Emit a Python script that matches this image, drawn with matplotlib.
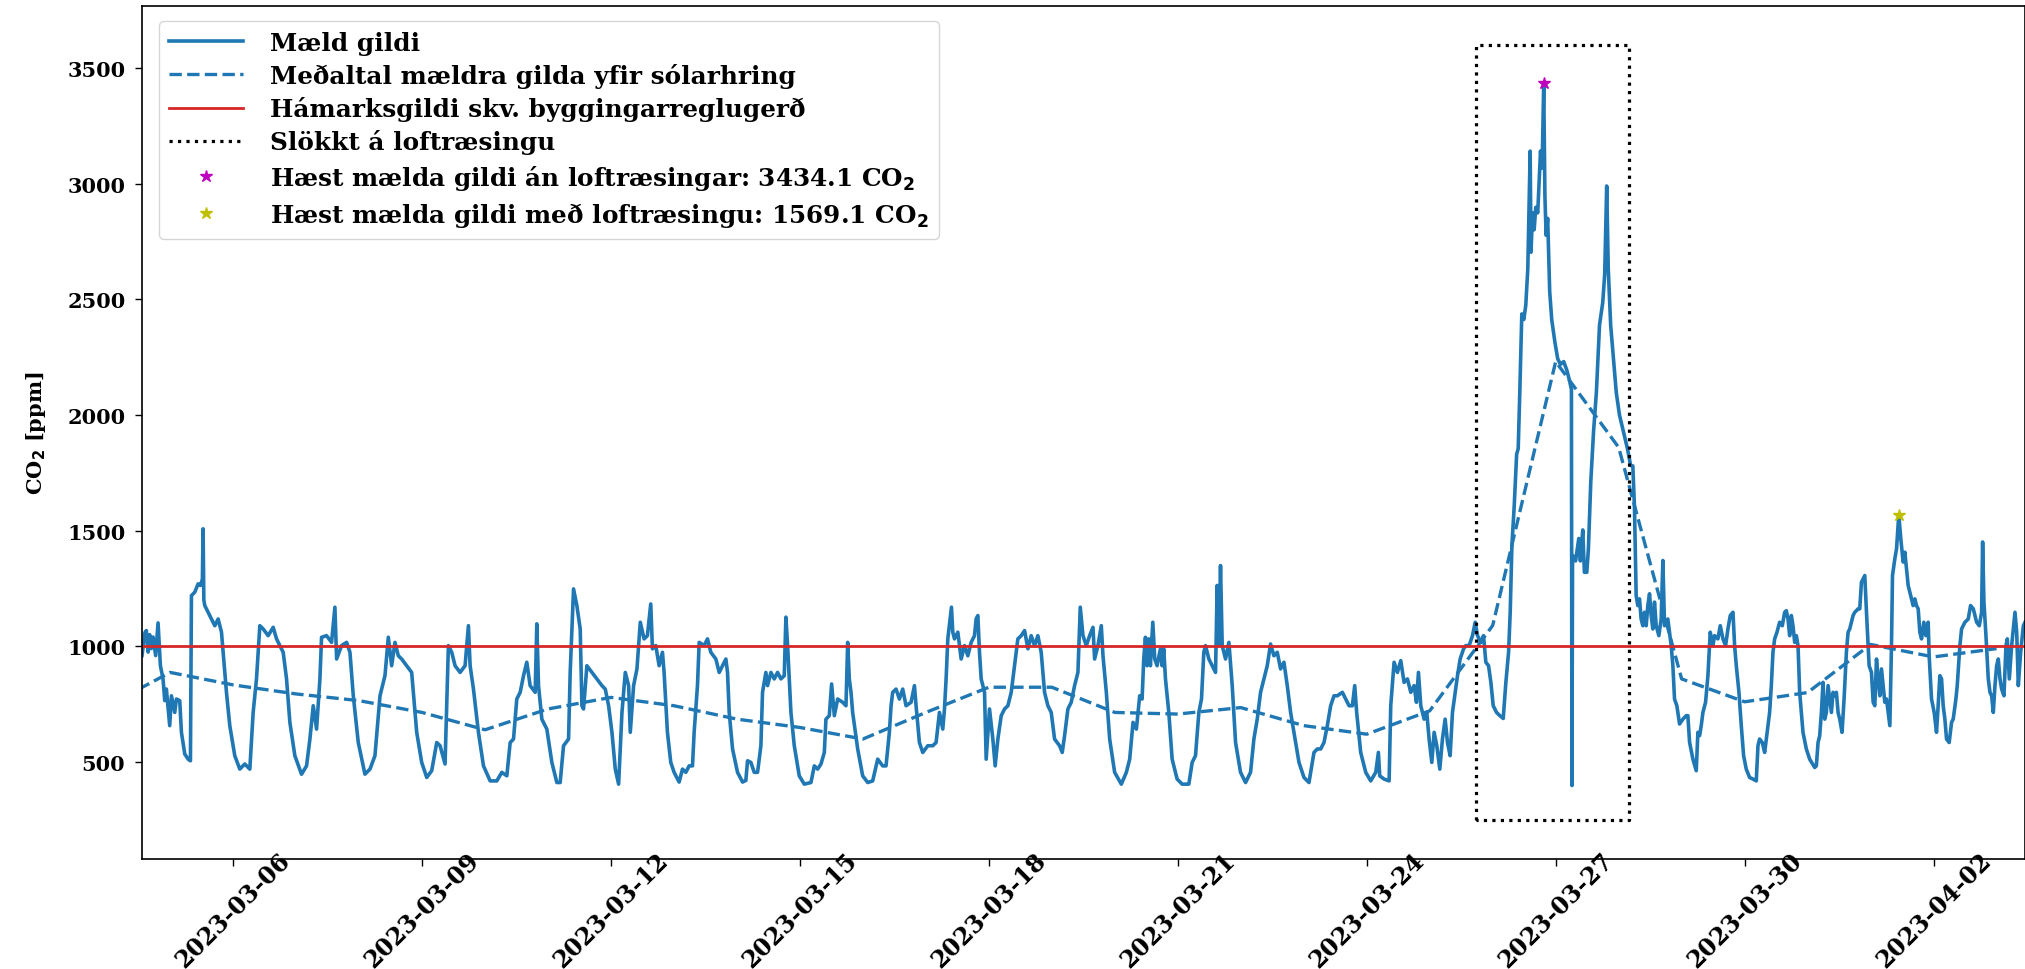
import pandas as pd
import matplotlib
matplotlib.use('Agg')
import matplotlib.pyplot as plt
import matplotlib.dates as mdates

# dagar eru talin frá 2023-03-06 00:00
upphaf = pd.Timestamp('2023-03-06')

maeld_dagar = [
    -1.447, -1.40, -1.378, -1.35, -1.325, -1.30, -1.272, -1.23, -1.192, -1.155,
    -1.113, -1.086, -1.060, -1.007, -0.980, -0.927, -0.901, -0.848, -0.821, -0.768,
    -0.715, -0.678, -0.662, -0.609, -0.556, -0.519, -0.488, -0.477, -0.465, -0.450,
    -0.397, -0.344, -0.291, -0.238, -0.185, -0.159, -0.106, -0.053, 0.026, 0.106,
    0.185, 0.265, 0.318, 0.371, 0.424, 0.477, 0.556, 0.636, 0.689, 0.742,
    0.795, 0.848, 0.901, 0.980, 1.086, 1.166, 1.219, 1.272, 1.325, 1.378,
    1.404, 1.484, 1.563, 1.616, 1.643, 1.722, 1.802, 1.855, 1.908, 1.987,
    2.093, 2.173, 2.252, 2.332, 2.411, 2.464, 2.517, 2.570, 2.623, 2.676,
    2.756, 2.835, 2.862, 2.915, 2.994, 3.074, 3.153, 3.233, 3.286, 3.365,
    3.418, 3.471, 3.524, 3.604, 3.683, 3.736, 3.763, 3.816, 3.895, 3.975,
    4.081, 4.187, 4.266, 4.346, 4.399, 4.452, 4.504, 4.558, 4.611, 4.663,
    4.716, 4.796, 4.822, 4.849, 4.902, 4.981, 5.061, 5.140, 5.193, 5.246,
    5.326, 5.352, 5.405, 5.458, 5.511, 5.538, 5.564, 5.617, 5.697, 5.776,
    5.856, 5.909, 5.962, 6.015, 6.068, 6.121, 6.174, 6.227, 6.280, 6.306,
    6.359, 6.412, 6.465, 6.525, 6.578, 6.631, 6.658, 6.711, 6.764, 6.817,
    6.843, 6.896, 6.949, 7.002, 7.082, 7.135, 7.188, 7.241, 7.294, 7.320,
    7.373, 7.400, 7.479, 7.532, 7.585, 7.665, 7.718, 7.771, 7.824, 7.850,
    7.877, 7.930, 8.009, 8.089, 8.141, 8.168, 8.221, 8.274, 8.327, 8.380,
    8.406, 8.459, 8.486, 8.539, 8.592, 8.645, 8.698, 8.751, 8.777, 8.804,
    8.857, 8.910, 8.989, 9.069, 9.175, 9.228, 9.281, 9.334, 9.387, 9.413,
    9.466, 9.503, 9.546, 9.599, 9.678, 9.731, 9.758, 9.784, 9.811, 9.837,
    9.917, 9.996, 10.076, 10.155, 10.235, 10.314, 10.367, 10.420, 10.447, 10.473,
    10.526, 10.579, 10.632, 10.685, 10.765, 10.818, 10.844, 10.897, 10.950, 11.030,
    11.109, 11.162, 11.215, 11.268, 11.295, 11.321, 11.348, 11.385, 11.406, 11.427,
    11.454, 11.507, 11.560, 11.613, 11.666, 11.719, 11.772, 11.798, 11.825, 11.851,
    11.878, 11.931, 11.957, 12.010, 12.063, 12.100, 12.143, 12.196, 12.249, 12.302,
    12.355, 12.408, 12.460, 12.514, 12.567, 12.620, 12.672, 12.725, 12.778, 12.831,
    12.884, 12.937, 12.990, 13.043, 13.123, 13.165, 13.202, 13.255, 13.308, 13.361,
    13.414, 13.451, 13.494, 13.547, 13.600, 13.653, 13.679, 13.732, 13.785, 13.812,
    13.865, 13.918, 13.997, 14.103, 14.183, 14.236, 14.289, 14.342, 14.395, 14.433,
    14.459, 14.486, 14.512, 14.539, 14.565, 14.603, 14.634, 14.671, 14.724, 14.751,
    14.777, 14.804, 14.857, 14.910, 14.989, 15.069, 15.175, 15.228, 15.281, 15.334,
    15.376, 15.413, 15.440, 15.493, 15.546, 15.599, 15.625, 15.652, 15.678, 15.705,
    15.758, 15.811, 15.864, 15.917, 15.996, 16.076, 16.155, 16.208, 16.261, 16.314,
    16.367, 16.420, 16.473, 16.526, 16.579, 16.632, 16.685, 16.738, 16.791, 16.844,
    16.924, 17.003, 17.083, 17.162, 17.215, 17.268, 17.321, 17.374, 17.427, 17.480,
    17.533, 17.613, 17.666, 17.719, 17.772, 17.809, 17.840, 17.904, 17.984, 18.063,
    18.143, 18.185, 18.206, 18.275, 18.355, 18.381, 18.434, 18.487, 18.540, 18.593,
    18.646, 18.699, 18.752, 18.789, 18.821, 18.858, 18.911, 18.953, 18.990, 19.033,
    19.070, 19.112, 19.160, 19.202, 19.245, 19.282, 19.324, 19.361, 19.404, 19.441,
    19.483, 19.536, 19.573, 19.626, 19.679, 19.722, 19.759, 19.812, 19.854, 19.891,
    19.934, 19.971, 20.008, 20.061, 20.114, 20.167, 20.209, 20.252, 20.278, 20.305,
    20.342, 20.380, 20.405, 20.430, 20.462, 20.494, 20.525, 20.557, 20.576, 20.595,
    20.608, 20.633, 20.658, 20.684, 20.715, 20.759, 20.785, 20.810, 20.829, 20.848,
    20.873, 20.905, 20.937, 20.987, 21.032, 21.076, 21.127, 21.177, 21.222, 21.250,
    21.258, 21.268, 21.316, 21.367, 21.392, 21.430, 21.456, 21.494, 21.519, 21.557,
    21.601, 21.646, 21.696, 21.747, 21.778, 21.810, 21.835, 21.873, 21.918, 21.962,
    22.013, 22.076, 22.139, 22.190, 22.225, 22.251, 22.278, 22.304, 22.331, 22.357,
    22.384, 22.410, 22.437, 22.463, 22.490, 22.516, 22.543, 22.569, 22.596, 22.638,
    22.675, 22.702, 22.728, 22.755, 22.781, 22.808, 22.834, 22.861, 22.887, 22.924,
    22.967, 23.020, 23.073, 23.099, 23.126, 23.179, 23.232, 23.258, 23.285, 23.311,
    23.338, 23.380, 23.417, 23.454, 23.497, 23.523, 23.576, 23.613, 23.656, 23.698,
    23.735, 23.772, 23.815, 23.841, 23.868, 23.910, 23.947, 23.984, 24.026, 24.079,
    24.132, 24.185, 24.212, 24.238, 24.281, 24.318, 24.344, 24.397, 24.424, 24.450,
    24.477, 24.514, 24.556, 24.598, 24.636, 24.662, 24.689, 24.715, 24.742, 24.768,
    24.795, 24.821, 24.848, 24.874, 24.927, 24.980, 25.033, 25.113, 25.139, 25.166,
    25.192, 25.219, 25.245, 25.272, 25.298, 25.325, 25.351, 25.378, 25.404, 25.431,
    25.457, 25.484, 25.510, 25.547, 25.579, 25.616, 25.643, 25.669, 25.696, 25.722,
    25.749, 25.775, 25.802, 25.828, 25.855, 25.881, 25.908, 25.935, 25.977, 26.014,
    26.041, 26.067, 26.094, 26.120, 26.147, 26.173, 26.200, 26.226, 26.253, 26.279,
    26.306, 26.332, 26.348, 26.385, 26.412, 26.448, 26.480, 26.517, 26.544, 26.570,
    26.597, 26.623, 26.650, 26.676, 26.703, 26.729, 26.756, 26.782, 26.809, 26.846,
    26.878, 26.915, 26.930, 26.968, 27.010, 27.047, 27.073, 27.100, 27.127, 27.153,
    27.180, 27.206, 27.248, 27.286, 27.312, 27.355, 27.376, 27.418, 27.445, 27.498,
    27.551, 27.588, 27.631, 27.684, 27.726, 27.763, 27.779, 27.800, 27.832, 27.869,
    27.896, 27.922, 27.949, 27.975, 28.002, 28.028, 28.055, 28.081, 28.118, 28.150,
    28.171, 28.203, 28.240, 28.267, 28.293, 28.320, 28.346, 28.383, 28.426, 28.452,
]

maeld_co2 = [
    960, 1060, 1068, 975, 1050, 990, 1040, 960, 1101, 916,
    859, 765, 815, 657, 786, 714, 772, 765, 628, 534,
    512, 505, 1219, 1234, 1270, 1263, 1290, 1508, 1200, 1176,
    1147, 1118, 1089, 1118, 1061, 974, 801, 657, 527, 469,
    491, 469, 714, 859, 1089, 1075, 1046, 1082, 1032, 1003,
    974, 859, 671, 527, 447, 483, 599, 743, 642, 859,
    1039, 1046, 1017, 1169, 945, 1003, 1017, 974, 786, 584,
    447, 469, 527, 786, 873, 1039, 916, 1017, 959, 945,
    916, 887, 801, 628, 498, 433, 462, 584, 570, 491,
    1003, 974, 916, 887, 916, 1089, 916, 815, 628, 483,
    418, 418, 455, 440, 584, 599, 772, 801, 873, 931,
    830, 801, 1097, 830, 685, 642, 498, 411, 411, 570,
    599, 887, 1248, 1176, 1075, 743, 729, 916, 887, 859,
    830, 815, 743, 628, 469, 404, 714, 887, 830, 628,
    830, 902, 1104, 1032, 1046, 1183, 989, 1003, 916, 974,
    887, 628, 498, 455, 413, 469, 455, 483, 483, 628,
    830, 1017, 1003, 1032, 974, 945, 887, 916, 945, 887,
    714, 556, 455, 413, 420, 505, 498, 455, 455, 570,
    801, 887, 830, 887, 859, 887, 859, 873, 1126, 1003,
    714, 570, 440, 404, 411, 483, 469, 491, 541, 685,
    700, 837, 700, 772, 758, 743, 1017, 859, 801, 714,
    556, 440, 411, 418, 512, 483, 483, 628, 743, 801,
    815, 772, 815, 743, 758, 830, 743, 584, 541, 570,
    570, 584, 714, 642, 729, 859, 1032, 1119, 1169, 1061,
    1032, 1061, 945, 1003, 959, 1017, 1046, 1119, 1133, 974,
    859, 801, 512, 729, 599, 483, 599, 700, 729, 743,
    801, 916, 1032, 1046, 1068, 989, 1046, 1003, 1046, 974,
    801, 743, 714, 599, 570, 541, 613, 729, 758, 830,
    887, 1169, 1046, 1003, 1046, 1082, 945, 1003, 1089, 959,
    801, 599, 455, 404, 455, 512, 671, 642, 786, 772,
    945, 1039, 916, 1032, 916, 1104, 945, 916, 989, 916,
    989, 859, 714, 512, 426, 404, 404, 498, 527, 714,
    772, 974, 1003, 945, 916, 887, 1263, 1003, 1349, 1003,
    945, 1017, 830, 584, 455, 411, 455, 599, 685, 801,
    859, 916, 1010, 959, 974, 902, 931, 830, 714, 628,
    498, 433, 411, 541, 556, 556, 584, 657, 743, 786,
    786, 801, 772, 743, 743, 830, 714, 541, 455, 418,
    455, 541, 440, 426, 418, 743, 931, 887, 938, 844,
    859, 801, 830, 758, 887, 743, 685, 714, 599, 498,
    628, 570, 469, 599, 685, 584, 527, 714, 801, 873,
    945, 988, 1003, 1003, 1046, 1104, 1046, 1017, 1046, 931,
    916, 844, 743, 714, 700, 688, 844, 974, 1147, 1436,
    1609, 1830, 1855, 2097, 2437, 2413, 2474, 2631, 2898, 3141,
    2704, 2874, 2801, 2898, 2874, 3141, 3068, 3434.1, 2947, 2777,
    2850, 2534, 2413, 2316, 2243, 2219, 2231, 2194, 2146, 2110,
    398, 1393, 1369, 1466, 1369, 1503, 1320, 1320, 1418, 1709,
    1927, 2097, 2389, 2486, 2607, 2990, 2631, 2389, 2243, 2097,
    2000, 1927, 1855, 1782, 1780, 1600, 1219, 1176, 1205, 1118,
    1089, 1147, 1089, 1176, 1227, 1133, 1075, 1191, 1089, 1046,
    1118, 1371, 1089, 1104, 1118, 1061, 1003, 916, 772, 743,
    664, 685, 700, 700, 585, 512, 462, 628, 614, 657,
    714, 758, 873, 1061, 1003, 1046, 1032, 1089, 1032, 1003,
    1075, 1133, 1147, 1003, 916, 801, 657, 527, 469, 433,
    426, 418, 570, 599, 584, 541, 599, 714, 830, 974,
    1032, 1061, 1104, 1089, 1147, 1154, 1118, 1046, 1133, 1089,
    1017, 1046, 1003, 801, 628, 556, 512, 476, 483, 584,
    613, 714, 844, 685, 714, 830, 772, 714, 801, 786,
    801, 714, 685, 628, 772, 974, 1061, 1075, 1104, 1133,
    1147, 1154, 1162, 1162, 1277, 1291, 1306, 1147, 916, 887,
    758, 743, 945, 859, 786, 902, 830, 758, 772, 714,
    657, 1003, 1306, 1378, 1421, 1569.1, 1464, 1364, 1407, 1335,
    1263, 1234, 1205, 1176, 1205, 1176, 1162, 1061, 1032, 1104,
    1046, 1104, 959, 772, 714, 628, 743, 873, 859, 743,
    685, 599, 584, 671, 685, 772, 830, 1003, 1075, 1104,
    1118, 1176, 1162, 1104, 1089, 1147, 1451, 1191, 1046, 859,
    801, 786, 714, 830, 916, 945, 859, 815, 786, 1003,
    1032, 859, 1003, 1075, 1147, 1061, 830, 974, 1089, 1104,
]

# meðaltal hvers sólarhrings, merkt á miðnætti
medaltal_dagar = list(range(-2, 29))
medaltal_co2 = [742, 887, 833, 794, 765, 714, 639, 729, 779, 743,
                685, 649, 599, 714, 823, 823, 714, 707, 735, 657,
                620, 721, 1090, 2231, 1860, 859, 760, 800, 1008, 954, 990]

haamarksgildi = 1000

# tímabil þar sem slökkt var á loftræsingu
slokkt_dagar = [19.73, 22.17]
slokkt_co2 = [250, 3600]

hæst_an_dagur, hæst_an = 20.810, 3434.1
hæst_med_dagur, hæst_med = 26.448, 1569.1

assert len(maeld_dagar) == len(maeld_co2)


def dags(dagar):
    return upphaf + pd.to_timedelta(pd.Series(dagar, dtype=float), unit='D')


plt.rcParams['font.family'] = ['DejaVu Serif']
plt.rcParams['font.weight'] = 'bold'

fig = plt.figure(figsize=(20.25, 9.7), dpi=100)
ax = fig.add_axes([142 / 2025, 110.5 / 970, 1883 / 2025, 852.3 / 970])

t_maeld = dags(maeld_dagar)
ax.plot(t_maeld, maeld_co2, color='tab:blue', lw=2.6, label='Mæld gildi')
ax.plot(dags(medaltal_dagar), medaltal_co2, '--', color='tab:blue', lw=2.4,
        label='Meðaltal mældra gilda yfir sólarhring')
ax.axhline(haamarksgildi, color='tab:red', lw=2.0,
           label='Hámarksgildi skv. byggingarreglugerð')

a, b = dags(slokkt_dagar)
lo, hi = slokkt_co2
ax.plot([a, a, b, b, a], [lo, hi, hi, lo, lo], 'k:', lw=2.3,
        label='Slökkt á loftræsingu')

ax.plot(dags([hæst_an_dagur]), [hæst_an], 'm*', ms=9,
        label=f'Hæst mælda gildi án loftræsingar: {hæst_an} CO$_2$')
ax.plot(dags([hæst_med_dagur]), [hæst_med], 'y*', ms=9,
        label=f'Hæst mælda gildi með loftræsingu: {hæst_med} CO$_2$')

ax.set_xlim(t_maeld.iloc[0], t_maeld.iloc[-1])
ax.set_xticks(pd.date_range('2023-03-06', '2023-04-02', freq='3D'))
ax.xaxis.set_major_formatter(mdates.DateFormatter('%Y-%m-%d'))
plt.setp(ax.get_xticklabels(), rotation=45)

ax.tick_params(axis='both', length=5, width=1.0)
ax.tick_params(axis='y', pad=7, labelsize=15)
# snúnu merkin hafa autt bil efst, því er bilið neikvætt
ax.tick_params(axis='x', pad=-13, labelsize=17)
for s in ax.spines.values():
    s.set_linewidth(1.2)

ax.set_ylabel('CO$_2$ [ppm]', fontsize=15, fontweight='bold')
ax.yaxis.set_label_coords(-0.0499, 0.5)

ax.legend(loc='upper left', bbox_to_anchor=(0.009, 0.9826), borderaxespad=0,
          prop={'weight': 'bold', 'size': 17.8}, handlelength=3.0,
          labelspacing=0.33, handletextpad=1.1)

plt.savefig('out.png', dpi=100)
